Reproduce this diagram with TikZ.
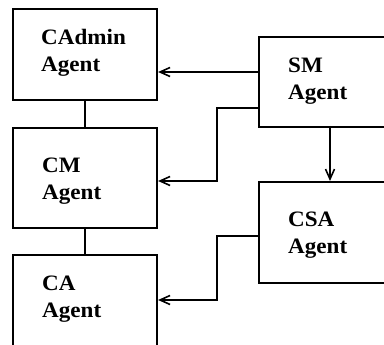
\documentclass[tikz,border=0pt]{standalone}
\usepackage{fontspec}
\setmainfont[FakeStretch=1.05,BoldFeatures={FakeStretch=1.05}]{Liberation Serif}
\usetikzlibrary{arrows.meta}
\tikzset{
  agentbox/.style={draw, line width=2.1pt, inner sep=0pt, anchor=north west},
  agentlabel/.style={anchor=base west, inner sep=0pt, align=left,
    font=\fontsize{22}{27}\selectfont\bfseries},
  link/.style={line width=1.7pt},
  msg/.style={line width=1.7pt, -{Straight Barb[length=10pt,width=9pt,line width=1.6pt]}}
}
\begin{document}
\begin{tikzpicture}[x=1pt,y=-1pt]
\useasboundingbox (0,0) rectangle (384,345);
\clip (0,0) rectangle (384,345);
% agent boxes
\node[agentbox, minimum width=144pt, minimum height=91pt]  (cadmin) at (12,8)   {};
\node[agentbox, minimum width=144pt, minimum height=100pt] (cm)     at (12,127) {};
\node[agentbox, minimum width=144pt, minimum height=110pt] (ca)     at (12,254) {};
\node[agentbox, minimum width=150pt, minimum height=90pt]  (sm)     at (258,36) {};
\node[agentbox, minimum width=150pt, minimum height=101pt] (csa)    at (258,181) {};
% labels (anchored at the baseline of the second line)
\node[agentlabel] (cadmint) at (41,72)  {CAdmin\\Agent};
\node[agentlabel] (cmt)     at (42,200) {CM\\Agent};
\node[agentlabel] (cat)     at (42,318) {CA\\Agent};
\node[agentlabel] (smt)     at (288,100) {SM\\Agent};
\node[agentlabel] (csat)    at (288,254) {CSA\\Agent};
% plain links between the left column
\draw[link] (cadmin.south) -- (cm.north);
\draw[link] (cm.south) -- (ca.north);
% messages
\draw[msg] (sm.west |- 0,72) -- (cadmin.east |- 0,72);
\draw[msg] (sm.west |- 0,108) -- (217,108) |- (cm.east |- 0,181);
\draw[msg] (330,126) -- (330,181);
\draw[msg] (csa.west |- 0,236) -- (217,236) |- (ca.east |- 0,300);
\end{tikzpicture}
\end{document}
